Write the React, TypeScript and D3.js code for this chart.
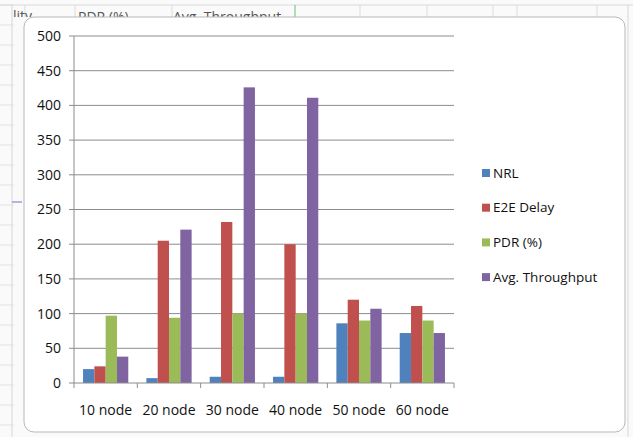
import React from "react";
import * as d3 from "d3";

const categories = ["10 node", "20 node", "30 node", "40 node", "50 node", "60 node"];
const seriesNames = ["NRL", "E2E Delay", "PDR (%)", "Avg. Throughput"];
const nrl = [20, 7, 9, 9, 86, 72];
const e2eDelay = [24, 205, 232, 200, 120, 111];
const pdr = [97, 94, 100, 100, 90, 90];
const throughput = [38, 221, 426, 411, 107, 72];
const yTicks = [0, 50, 100, 150, 200, 250, 300, 350, 400, 450, 500];
const headerTexts = ["PDR (%)", "Avg. Throughput"];

const colors = ["#4F81BD", "#C0504D", "#9BBB59", "#8064A2"];
const W = 633;
const H = 437;
const font = "'Open Sans', 'DejaVu Sans', sans-serif";

export default function App() {
  const values = [nrl, e2eDelay, pdr, throughput];

  const x = d3.scaleBand<string>().domain(categories).range([74, 454]);
  const xInner = d3
    .scaleBand<string>()
    .domain(seriesNames)
    .range([0, x.bandwidth()])
    .paddingOuter(0.8);
  const y = d3.scaleLinear().domain([0, 500]).range([383, 36]);

  // spreadsheet cell lines behind the chart
  const colLines = [25, 75, 172, 360, 427, 493, 517, 597];
  const rowLines = d3.range(5, H, 20);

  return (
    <svg
      width={W}
      height={H}
      style={{ position: "fixed", left: 0, top: 0, background: "#fff" }}
      fontFamily={font}
    >
      {/* sheet background */}
      <rect x={0} y={0} width={W} height={H} fill="#fafafa" />
      {rowLines.map((r) => (
        <line key={"r" + r} x1={0} x2={14} y1={r} y2={r} stroke="#e2e2e2" />
      ))}
      <line x1={0} x2={W} y1={5} y2={5} stroke="#d9d9d9" />
      {colLines.map((c) => (
        <line key={"c" + c} x1={c} x2={c} y1={5} y2={17} stroke="#dcdcdc" />
      ))}
      <line x1={295} x2={295} y1={5} y2={20} stroke="#6abf6a" />
      <line x1={12} x2={12} y1={5} y2={H} stroke="#d6d6d6" />
      <line x1={628} x2={628} y1={5} y2={H} stroke="#d6d6d6" />
      <line x1={12} x2={22} y1={202} y2={202} stroke="#6b74c9" />
      <clipPath id="hdr">
        <rect x={0} y={0} width={W} height={17} />
      </clipPath>
      <g clipPath="url(#hdr)" fill="#555" fontSize={14}>
        <text x={13} y={21}>lity</text>
        <text x={78} y={22}>{headerTexts[0]}</text>
        <text x={173} y={22}>{headerTexts[1]}</text>
      </g>

      {/* chart frame */}
      <rect
        x={24}
        y={17}
        width={601}
        height={415}
        rx={10}
        fill="#ffffff"
        stroke="#b8b8b8"
        strokeWidth={1}
      />

      {/* gridlines and y axis */}
      {yTicks.map((t) => (
        <g key={t}>
          {t > 0 && (
            <line x1={74} x2={454} y1={y(t)} y2={y(t)} stroke="#8c8c8c" strokeWidth={1} />
          )}
          <line x1={69} x2={74} y1={y(t)} y2={y(t)} stroke="#8c8c8c" />
          <text
            x={61}
            y={y(t)}
            dy="0.35em"
            textAnchor="end"
            fontSize={14}
            fill="#111"
          >
            {t}
          </text>
        </g>
      ))}
      <line x1={74} x2={74} y1={y(500)} y2={y(0)} stroke="#8c8c8c" />

      {/* bars */}
      {categories.map((c, ci) => (
        <g key={c} transform={`translate(${x(c)},0)`}>
          {seriesNames.map((s, si) => (
            <rect
              key={s}
              x={xInner(s)}
              y={y(values[si][ci])}
              width={xInner.bandwidth()}
              height={y(0) - y(values[si][ci])}
              fill={colors[si]}
            />
          ))}
        </g>
      ))}

      {/* x axis */}
      <line x1={74} x2={454} y1={y(0)} y2={y(0)} stroke="#8c8c8c" />
      {[...categories.map((c) => x(c) as number), 454].map((px, i) => (
        <line key={i} x1={px} x2={px} y1={y(0)} y2={y(0) + 5} stroke="#8c8c8c" />
      ))}
      {categories.map((c) => (
        <text
          key={c}
          x={(x(c) as number) + x.bandwidth() / 2}
          y={415}
          textAnchor="middle"
          fontSize={14}
          fill="#111"
        >
          {c}
        </text>
      ))}

      {/* legend */}
      {seriesNames.map((s, i) => (
        <g key={s} transform={`translate(482,${173 + i * 34.7})`}>
          <rect x={0} y={-4} width={8} height={8} fill={colors[i]} />
          <text x={11} y={0} dy="0.35em" fontSize={13.5} fill="#111">
            {s}
          </text>
        </g>
      ))}
    </svg>
  );
}
